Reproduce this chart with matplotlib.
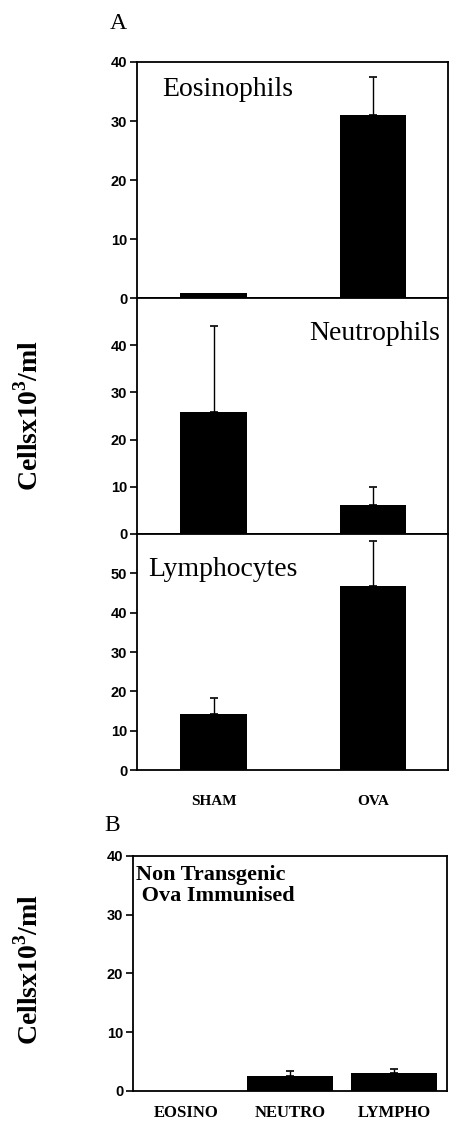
import matplotlib
matplotlib.use("Agg")
import matplotlib.pyplot as plt
import numpy as np

# panel A data (SHAM vs OVA)
groups = ["SHAM", "OVA"]
cell_types = ["Eosinophils", "Neutrophils", "Lymphocytes"]
sham_mean = [0.8, 25.8, 14.3]
sham_err = [0.0, 18.2, 4.0]
ova_mean = [31.0, 6.2, 46.7]
ova_err = [6.5, 3.8, 11.6]
ylims = [40, 50, 60]
yticks = [[0, 10, 20, 30, 40], [0, 10, 20, 30, 40], [0, 10, 20, 30, 40, 50]]

# panel B data
b_cats = ["EOSINO", "NEUTRO", "LYMPHO"]
b_mean = [0.0, 2.6, 3.0]
b_err = [0.0, 0.8, 0.8]

serif = "Liberation Serif"
plt.rcParams["font.family"] = serif
plt.rcParams["mathtext.fontset"] = "custom"
plt.rcParams["mathtext.bf"] = "Liberation Serif:bold"
plt.rcParams["mathtext.rm"] = "Liberation Serif"

fig = plt.figure(figsize=(4.5, 11.23), dpi=100)

def style(ax):
    for s in ax.spines.values():
        s.set_linewidth(1.3)
    ax.tick_params(axis="y", direction="out", length=5, width=1.2, pad=2)
    ax.tick_params(axis="x", length=0)
    for lab in ax.get_yticklabels():
        lab.set_fontfamily("Liberation Sans")
        lab.set_fontweight("bold")
        lab.set_fontsize(10.5)

bottoms = [0.7346, 0.5245, 0.3143]
axes = []
for i in range(3):
    ax = fig.add_axes([0.3044, bottoms[i], 0.691, 0.2102])
    x = np.arange(2)
    vals = [sham_mean[i], ova_mean[i]]
    errs = [sham_err[i], ova_err[i]]
    ax.bar(x, vals, width=0.415, color="black")
    for xi, v, e in zip(x, vals, errs):
        if e > 0:
            ax.errorbar(xi, v, yerr=[[0], [e]], color="black", capsize=3, lw=1, capthick=1.2)
    ax.set_xlim(-0.48, 1.47)
    ax.set_ylim(0, ylims[i])
    ax.set_yticks(yticks[i])
    ax.set_xticks([])
    style(ax)
    axes.append(ax)

axes[0].text(0.08, 0.855, cell_types[0], transform=axes[0].transAxes, fontsize=20)
axes[1].text(0.975, 0.82, cell_types[1], transform=axes[1].transAxes, fontsize=20, ha="right")
axes[2].text(0.035, 0.82, cell_types[2], transform=axes[2].transAxes, fontsize=20)
axes[2].set_xticks([0, 1])
axes[2].set_xticklabels(groups, fontsize=11, fontweight="bold")
axes[2].tick_params(axis="x", pad=18)

axb = fig.add_axes([0.2956, 0.0285, 0.698, 0.2093])
xb = np.arange(3)
axb.bar(xb, b_mean, width=0.82, color="black")
for xi, v, e in zip(xb, b_mean, b_err):
    if e > 0:
        axb.errorbar(xi, v, yerr=[[0], [e]], color="black", capsize=3, lw=1, capthick=1.2)
axb.set_xlim(-0.51, 2.51)
axb.set_ylim(0, 40)
axb.set_yticks([0, 10, 20, 30, 40])
axb.set_xticks(xb)
axb.set_xticklabels(b_cats, fontsize=12, fontweight="bold")
style(axb)
axb.tick_params(axis="x", pad=10)
axb.text(0.01, 0.96, "Non Transgenic\n Ova Immunised", transform=axb.transAxes,
         fontsize=16, fontweight="bold", va="top", linespacing=1.05)

fig.text(0.243, 0.979, "A", fontsize=17, va="center")
fig.text(0.232, 0.265, "B", fontsize=17, va="center")
fig.text(0.066, 0.63, "Cellsx10$^{\\mathbf{3}}$/ml", rotation=90, fontsize=20,
         fontweight="bold", ha="center", va="center")
fig.text(0.066, 0.137, "Cellsx10$^{\\mathbf{3}}$/ml", rotation=90, fontsize=20,
         fontweight="bold", ha="center", va="center")

fig.savefig("out.png", dpi=100)
